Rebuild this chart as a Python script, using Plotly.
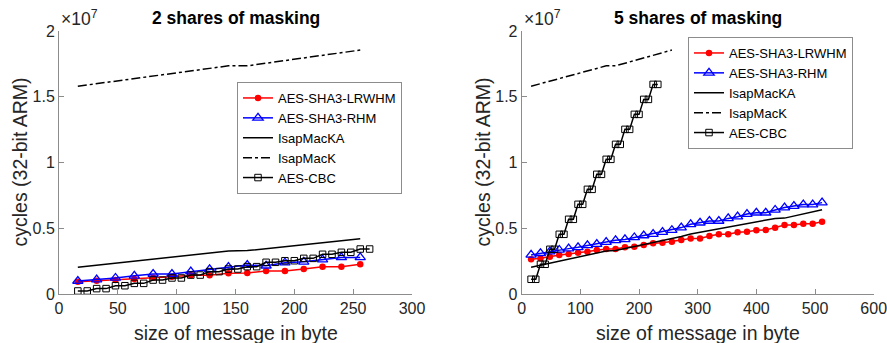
import plotly.graph_objects as go

# ---------------- data (cycles in millions) ----------------
sizes16_2 = [16, 32, 48, 64, 80, 96, 112, 128, 144, 160, 176, 192, 208, 224, 240, 256]
lrwhm_2 = [0.94, 1.01, 1.06, 1.14, 1.24, 1.32, 1.42, 1.42, 1.57, 1.6, 1.75, 1.75, 1.9, 2.08, 2.08, 2.26]
rhm_2 = [0.99, 1.1, 1.22, 1.38, 1.52, 1.52, 1.7, 1.88, 2.05, 2.2, 2.15, 2.38, 2.45, 2.62, 2.78, 2.78]
isapka_2 = [2.03, 2.18, 2.34, 2.5, 2.65, 2.8, 2.96, 3.12, 3.27, 3.3, 3.45, 3.6, 3.75, 3.9, 4.05, 4.2]
isapk = [15.8, 16.0, 16.2, 16.35, 16.55, 16.75, 16.95, 17.15, 17.35, 17.35, 17.55, 17.75, 17.95, 18.15, 18.35, 18.55]
sizes8_2 = [16, 24, 32, 40, 48, 56, 64, 72, 80, 88, 96, 104, 112, 120, 128, 136,
            144, 152, 160, 168, 176, 184, 192, 200, 208, 216, 224, 232, 240, 248, 256, 264]
cbc_2 = [0.23, 0.23, 0.41, 0.41, 0.63, 0.63, 0.81, 0.81, 1.06, 1.06, 1.22, 1.22, 1.44, 1.44, 1.7, 1.7,
         1.9, 1.9, 2.08, 2.08, 2.41, 2.41, 2.53, 2.53, 2.71, 2.71, 3.02, 3.02, 3.17, 3.17, 3.42, 3.42]

sizes16_5 = [16, 32, 48, 64, 80, 96, 112, 128, 144, 160, 176, 192, 208, 224, 240, 256,
             272, 288, 304, 320, 336, 352, 368, 384, 400, 416, 432, 448, 464, 480, 496, 512]
lrwhm_5 = [2.64, 2.71, 2.84, 2.97, 3.04, 3.14, 3.22, 3.35, 3.42, 3.42, 3.55, 3.6, 3.73, 3.85, 3.9, 3.98,
           4.1, 4.23, 4.23, 4.41, 4.54, 4.54, 4.69, 4.74, 4.84, 4.87, 5.04, 5.25, 5.25, 5.35, 5.35, 5.5]
rhm_5 = [2.97, 3.1, 3.22, 3.35, 3.45, 3.55, 3.7, 3.8, 3.95, 4.08, 4.15, 4.3, 4.45, 4.55, 4.7, 4.85,
         5.05, 5.3, 5.42, 5.55, 5.55, 5.75, 5.88, 6.08, 6.18, 6.18, 6.39, 6.57, 6.69, 6.8, 6.8, 6.95]
isapka_5 = [2.03, 2.18, 2.34, 2.5, 2.65, 2.8, 2.96, 3.12, 3.27, 3.3, 3.45, 3.6, 3.75, 3.9, 4.05, 4.2,
            4.38, 4.56, 4.69, 4.82, 4.96, 5.09, 5.22, 5.35, 5.48, 5.62, 5.75, 5.77, 5.93, 6.08, 6.24, 6.4]
sizes8_5 = [16, 24, 32, 40, 48, 56, 64, 72, 80, 88, 96, 104, 112, 120, 128, 136,
            144, 152, 160, 168, 176, 184, 192, 200, 208, 216, 224, 232]
cbc_5 = [1.12, 1.12, 2.26, 2.26, 3.4, 3.4, 4.54, 4.54, 5.68, 5.68, 6.82, 6.82, 7.96, 7.96, 9.1, 9.1,
         10.24, 10.24, 11.38, 11.38, 12.52, 12.52, 13.66, 13.66, 14.8, 14.8, 15.94, 15.94]

y_tickvals = [0, 5e6, 1e7, 1.5e7, 2e7]
y_ticktext = ["0", "0.5", "1", "1.5", "2"]
x_tick_left = [0, 50, 100, 150, 200, 250, 300]
x_tick_right = [0, 100, 200, 300, 400, 500, 600]

def M(v):
    return [a * 1e6 for a in v]

W, H = 887, 343
FONT = "Liberation Sans, Arial, sans-serif"
TXT = "#262626"

fig = go.Figure()

def add_panel(xa, ya, leg, s16, lr, rh, ka, s16k, k, s8, cbc):
    fig.add_trace(go.Scatter(x=s16, y=M(lr), name="AES-SHA3-LRWHM", mode="lines+markers",
                             line=dict(color="#ff0000", width=1.5),
                             marker=dict(symbol="circle", size=6.5, color="#ff0000"),
                             xaxis=xa, yaxis=ya, legend=leg))
    fig.add_trace(go.Scatter(x=s16, y=M(rh), name="AES-SHA3-RHM", mode="lines+markers",
                             line=dict(color="#0000ff", width=1.5),
                             marker=dict(symbol="triangle-up-open", size=9, color="#0000ff",
                                         line=dict(width=1.3)),
                             xaxis=xa, yaxis=ya, legend=leg))
    fig.add_trace(go.Scatter(x=s16, y=M(ka), name="IsapMacKA", mode="lines",
                             line=dict(color="#000000", width=1.5),
                             xaxis=xa, yaxis=ya, legend=leg))
    fig.add_trace(go.Scatter(x=s16k, y=M(k), name="IsapMacK", mode="lines",
                             line=dict(color="#000000", width=1.5, dash="dashdot"),
                             xaxis=xa, yaxis=ya, legend=leg))
    fig.add_trace(go.Scatter(x=s8, y=M(cbc), name="AES-CBC", mode="lines+markers",
                             line=dict(color="#000000", width=1.5),
                             marker=dict(symbol="square-open", size=6.5, color="#000000",
                                         line=dict(width=1)),
                             xaxis=xa, yaxis=ya, legend=leg))

add_panel("x", "y", "legend", sizes16_2, lrwhm_2, rhm_2, isapka_2, sizes16_2, isapk, sizes8_2, cbc_2)
add_panel("x2", "y2", "legend2", sizes16_5, lrwhm_5, rhm_5, isapka_5, sizes16_2, isapk, sizes8_5, cbc_5)

ydom = [(H - 294) / H, (H - 31) / H]
axis_common = dict(showline=True, linecolor="#8c8c8c", linewidth=1, ticks="inside", ticklen=5,
                   tickcolor="#8c8c8c", showgrid=False, zeroline=False, mirror=False,
                   ticklabeloverflow="allow",
                   tickfont=dict(family=FONT, size=16, color=TXT))

legend_common = dict(bgcolor="white", bordercolor="#8c8c8c", borderwidth=1,
                     font=dict(family=FONT, size=13, color="#000000"),
                     xanchor="left", yanchor="top", itemwidth=30, tracegroupgap=0)

fig.update_layout(
    width=W, height=H, margin=dict(l=0, r=0, t=0, b=0, autoexpand=False),
    paper_bgcolor="white", plot_bgcolor="white", showlegend=True,
    xaxis=dict(domain=[59 / W, 412 / W], range=[0, 300], tickvals=x_tick_left, anchor="y", **axis_common),
    yaxis=dict(domain=ydom, range=[0, 2e7], tickvals=y_tickvals, ticktext=y_ticktext, anchor="x", **axis_common),
    xaxis2=dict(domain=[521.7 / W, 873.7 / W], range=[0, 600], tickvals=x_tick_right, anchor="y2", **axis_common),
    yaxis2=dict(domain=ydom, range=[0, 2e7], tickvals=y_tickvals, ticktext=y_ticktext, anchor="x2", **axis_common),
    legend=dict(x=237 / W, y=1 - 82 / H, **legend_common),
    legend2=dict(x=688 / W, y=1 - 37 / H, **legend_common),
)

anns = [
    dict(text="<b>2 shares of masking</b>", x=235.5, y=18, size=17.5, color="#000000"),
    dict(text="<b>5 shares of masking</b>", x=697.7, y=18, size=17.5, color="#000000"),
    dict(text="size of message in byte", x=235.5, y=333, size=19.5, color=TXT),
    dict(text="size of message in byte", x=697.7, y=333, size=19.5, color=TXT),
]
for a in anns:
    fig.add_annotation(text=a["text"], x=a["x"] / W, y=1 - a["y"] / H, xref="paper", yref="paper",
                       xanchor="center", yanchor="middle", showarrow=False,
                       font=dict(family=FONT, size=a["size"], color=a["color"]))
for xc in [19, 482]:
    fig.add_annotation(text="cycles (32-bit ARM)", x=xc / W, y=1 - 162.5 / H, xref="paper", yref="paper",
                       xanchor="center", yanchor="middle", showarrow=False, textangle=-90,
                       font=dict(family=FONT, size=19.5, color=TXT))
for xl in [59, 522]:
    fig.add_annotation(text="×10<sup>7</sup>", x=xl / W, y=1 - 18 / H, xref="paper", yref="paper",
                       xanchor="left", yanchor="middle", showarrow=False,
                       font=dict(family=FONT, size=17.5, color=TXT))

fig.write_html("out.html", config={"displayModeBar": False},
               post_script="document.body.style.margin='0';document.body.style.padding='0';")
